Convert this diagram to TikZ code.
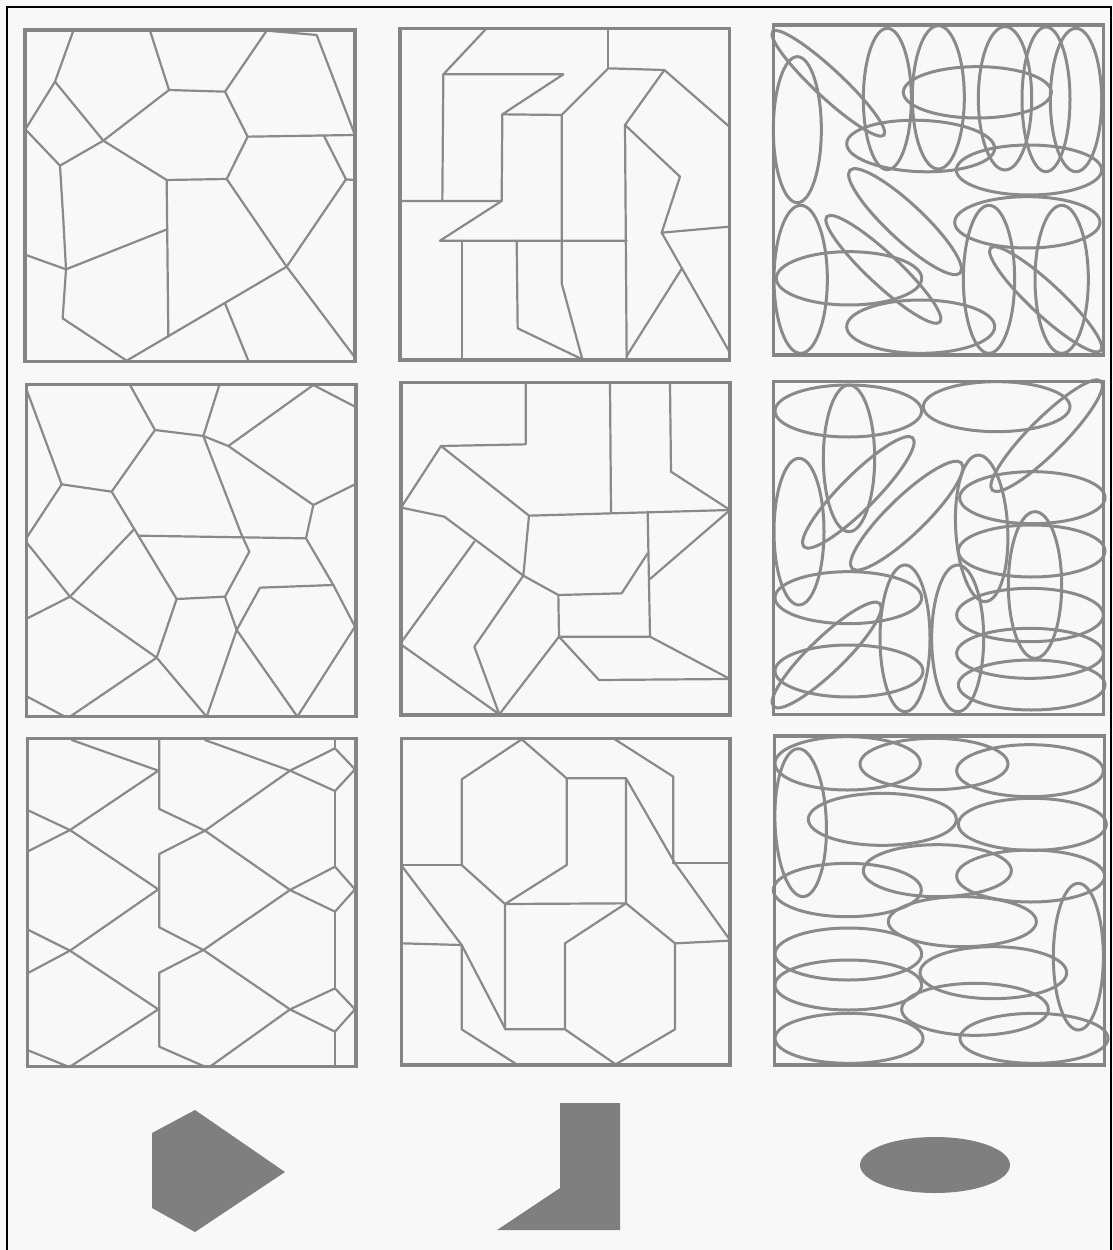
\documentclass[tikz,border=0pt]{standalone}
\definecolor{bgc}{HTML}{F8F8F8}
\definecolor{lnc}{HTML}{8A8A8A}
\definecolor{frc}{HTML}{858585}
\definecolor{shc}{HTML}{7F7F7F}
\newcommand\elp[5]{\draw[ellp, rotate around={#5:(#1,#2)}] (#1,#2) ellipse [x radius=#3, y radius=#4];}
\begin{document}
\begin{tikzpicture}[x=1pt,y=-1pt,
  pline/.style={draw=lnc, line width=2.2pt, line join=round, line cap=round},
  pframe/.style={draw=frc, line width=3.4pt},
  ellp/.style={draw=lnc, line width=3pt},
  shp/.style={fill=shc}]
\useasboundingbox (0,0) rectangle (1113,1250);
\fill[bgc] (0,0) rectangle (1113,1250);
\draw[black, line width=1.5pt] (7,1250) -- (7,7) -- (1111,7) -- (1111,1250);

% ---------- Panel 1 ----------
\begin{scope}[shift={(20,20)},scale=0.33333]
\draw[pline] (160,32) -- (105,185) -- (18,325);
\draw[pline] (105,185) -- (250,362) -- (447,210) -- (390,32);
\draw[pline] (447,210) -- (615,215) -- (740,32) -- (890,45) -- (1003,340);
\draw[pline] (615,215) -- (683,350) -- (1003,345);
\draw[pline] (683,350) -- (620,477) -- (440,480) -- (250,362);
\draw[pline] (18,330) -- (120,437) -- (250,362);
\draw[pline] (120,437) -- (130,600) -- (138,748) -- (128,895) -- (320,1022);
\draw[pline] (18,705) -- (138,748) -- (441,628);
\draw[pline] (440,480) -- (445,949);
\draw[pline] (320,1022) -- (800,740) -- (620,477);
\draw[pline] (800,740) -- (1003,1010);
\draw[pline] (800,740) -- (978,478) -- (1003,480);
\draw[pline] (978,478) -- (912,348);
\draw[pline] (615,850) -- (685,1022);
\draw[pframe] (15,30) rectangle (1005,1025);
\end{scope}

% ---------- Panel 2 ----------
\begin{scope}[shift={(395,20)},scale=0.33333]
\draw[pline] (272,28) -- (145,163) -- (505,163) -- (322,283) -- (500,285) -- (640,145) -- (808,150) -- (1003,320);
\draw[pline] (640,28) -- (640,145);
\draw[pline] (145,163) -- (142,542);
\draw[pline] (18,543) -- (320,543) -- (322,283);
\draw[pline] (320,543) -- (135,662) -- (695,662);
\draw[pline] (500,285) -- (500,790) -- (562,1018);
\draw[pline] (808,150) -- (690,315) -- (695,1018);
\draw[pline] (690,315) -- (855,470) -- (800,638) -- (1003,620);
\draw[pline] (800,638) -- (1003,995);
\draw[pline] (861,745) -- (695,1008);
\draw[pline] (200,662) -- (200,1018);
\draw[pline] (365,662) -- (368,925) -- (562,1018);
\draw[pframe] (15,25) rectangle (1003,1020);
\end{scope}

% ---------- Panel 3 ----------
\begin{scope}[shift={(765,20)},scale=0.33333]
\elp{190}{190}{228}{42}{-43}
\elp{97}{329}{72}{219}{0}
\elp{367}{237}{72}{212}{0}
\elp{520}{232}{78}{215}{0}
\elp{720}{235}{80}{215}{0}
\elp{843}{238}{72}{217}{0}
\elp{933}{240}{77}{215}{0}
\elp{637}{217}{222}{77}{0}
\elp{467}{378}{222}{77}{-2}
\elp{792}{450}{218}{75}{0}
\elp{420}{605}{226}{54}{-43}
\elp{787}{607}{218}{77}{0}
\elp{107}{778}{80}{222}{0}
\elp{355}{748}{232}{47}{-43}
\elp{252}{775}{218}{80}{0}
\elp{467}{920}{222}{80}{0}
\elp{672}{778}{77}{222}{0}
\elp{890}{778}{80}{222}{0}
\elp{842}{838}{226}{47}{-43}
\draw[pframe] (25,15) rectangle (1015,1005);
\end{scope}

% ---------- Panel 4 ----------
\begin{scope}[shift={(20,375)},scale=0.33333]
\draw[pline] (22,50) -- (125,328) -- (275,350) -- (405,165) -- (330,30);
\draw[pline] (405,165) -- (550,183) -- (598,30);
\draw[pline] (550,183) -- (625,213) -- (880,30) -- (1005,95);
\draw[pline] (625,213) -- (880,390) -- (1005,328);
\draw[pline] (880,390) -- (858,490) -- (355,482);
\draw[pline] (550,183) -- (665,480) -- (688,530) -- (615,665) -- (470,672) -- (275,350);
\draw[pline] (22,485) -- (125,328);
\draw[pline] (22,505) -- (150,665) -- (343,462);
\draw[pline] (22,730) -- (150,665) -- (410,848) -- (470,672);
\draw[pline] (410,848) -- (150,1025);
\draw[pline] (22,965) -- (135,1025);
\draw[pline] (410,848) -- (560,1025) -- (650,765) -- (615,665);
\draw[pline] (650,765) -- (720,638) -- (940,630) -- (1005,755);
\draw[pline] (858,490) -- (940,630);
\draw[pline] (650,765) -- (832,1025) -- (1005,755);
\draw[pframe] (20,28) rectangle (1008,1025);
\end{scope}

% ---------- Panel 5 ----------
\begin{scope}[shift={(395,375)},scale=0.33333]
\draw[pline] (392,25) -- (392,208) -- (138,213) -- (20,395);
\draw[pline] (138,213) -- (402,422) -- (1005,405) -- (828,290) -- (825,25);
\draw[pline] (645,25) -- (648,412);
\draw[pline] (20,398) -- (148,425) -- (385,602) -- (402,422);
\draw[pline] (385,602) -- (490,660) -- (680,655) -- (758,535);
\draw[pline] (758,410) -- (765,785) -- (492,785) -- (490,660);
\draw[pline] (765,612) -- (1005,405);
\draw[pline] (238,500) -- (20,800);
\draw[pline] (20,810) -- (313,1018) -- (238,815) -- (385,602);
\draw[pline] (313,1018) -- (492,785) -- (612,915) -- (1005,912);
\draw[pline] (765,785) -- (1005,912);
\draw[pframe] (18,22) rectangle (1005,1020);
\end{scope}

% ---------- Panel 6 ----------
\begin{scope}[shift={(765,375)},scale=0.33333]
\elp{250}{108}{220}{78}{0}
\elp{695}{95}{220}{75}{0}
\elp{252}{250}{77}{220}{0}
\elp{280}{352}{231}{52}{45}
\elp{845}{182}{231}{52}{45}
\elp{102}{470}{75}{220}{0}
\elp{425}{422}{228}{56}{44}
\elp{650}{460}{78}{220}{3}
\elp{802}{368}{218}{78}{0}
\elp{800}{528}{220}{78}{0}
\elp{810}{630}{80}{220}{0}
\elp{250}{668}{220}{78}{0}
\elp{420}{790}{75}{220}{0}
\elp{185}{840}{222}{52}{44}
\elp{252}{888}{222}{78}{0}
\elp{578}{790}{78}{220}{0}
\elp{795}{720}{220}{80}{0}
\elp{795}{835}{220}{75}{0}
\elp{800}{930}{220}{75}{0}
\draw[pframe] (25,20) rectangle (1015,1018);
\end{scope}

% ---------- Panel 7 ----------
\begin{scope}[shift={(20,730)},scale=0.33333]
\draw[pline] (155,30) -- (415,122) -- (150,300) -- (22,365);
\draw[pline] (418,30) -- (418,237) -- (555,302) -- (810,480) -- (945,545) -- (1005,478) -- (945,410) -- (810,480) -- (550,660) -- (418,592) -- (418,372) -- (555,302) -- (810,122) -- (945,55) -- (1005,118) -- (945,183) -- (810,122) -- (555,30);
\draw[pline] (945,25) -- (945,55);
\draw[pline] (945,183) -- (945,410);
\draw[pline] (22,240) -- (150,300) -- (415,478) -- (150,662) -- (22,730);
\draw[pline] (22,598) -- (150,662) -- (415,838) -- (150,1010);
\draw[pline] (22,960) -- (145,1010);
\draw[pline] (418,728) -- (550,660) -- (810,838) -- (945,905) -- (1005,838) -- (945,775) -- (810,838) -- (570,1010);
\draw[pline] (418,728) -- (418,950) -- (555,1010);
\draw[pline] (945,545) -- (945,775);
\draw[pline] (945,905) -- (945,1010);
\draw[pframe] (22,25) rectangle (1008,1010);
\end{scope}

% ---------- Panel 8 ----------
\begin{scope}[shift={(395,730)},scale=0.33333]
\draw[pline] (200,405) -- (200,148) -- (380,28) -- (515,145) -- (515,405) -- (330,522) -- (200,405);
\draw[pline] (20,405) -- (200,405);
\draw[pline] (515,145) -- (693,145) -- (693,520) -- (330,522) -- (330,898) -- (510,898) -- (510,640) -- (693,520) -- (840,640) -- (840,898) -- (662,1003) -- (510,898);
\draw[pline] (693,145) -- (840,400) -- (1005,630);
\draw[pline] (655,25) -- (835,140) -- (835,400);
\draw[pline] (835,400) -- (1005,400);
\draw[pline] (840,640) -- (1005,632);
\draw[pline] (22,410) -- (200,645) -- (330,895);
\draw[pline] (22,640) -- (200,645) -- (200,898) -- (365,1003);
\draw[pframe] (20,25) rectangle (1005,1005);
\end{scope}

% ---------- Panel 9 ----------
\begin{scope}[shift={(765,730)},scale=0.33333]
\elp{248}{100}{218}{80}{0}
\elp{507}{102}{222}{77}{0}
\elp{795}{122}{220}{78}{0}
\elp{107}{278}{77}{222}{2}
\elp{352}{268}{222}{78}{0}
\elp{802}{283}{222}{78}{0}
\elp{517}{422}{222}{78}{0}
\elp{797}{438}{222}{78}{0}
\elp{247}{480}{222}{80}{0}
\elp{592}{575}{222}{75}{0}
\elp{940}{680}{75}{220}{0}
\elp{250}{672}{220}{78}{0}
\elp{685}{728}{220}{78}{0}
\elp{250}{765}{220}{75}{0}
\elp{630}{838}{220}{78}{0}
\elp{252}{925}{222}{75}{0}
\elp{807}{925}{222}{75}{0}
\draw[pframe] (28,18) rectangle (1018,1005);
\end{scope}

% ---------- Bottom shapes ----------
\fill[shp] (195,1110) -- (152,1133) -- (152,1208) -- (195,1232) -- (285,1172) -- cycle;
\fill[shp] (560,1103) -- (620,1103) -- (620,1230) -- (497,1230) -- (560,1188) -- cycle;
\fill[shp] (935,1165) ellipse [x radius=75, y radius=28];
\end{tikzpicture}
\end{document}
